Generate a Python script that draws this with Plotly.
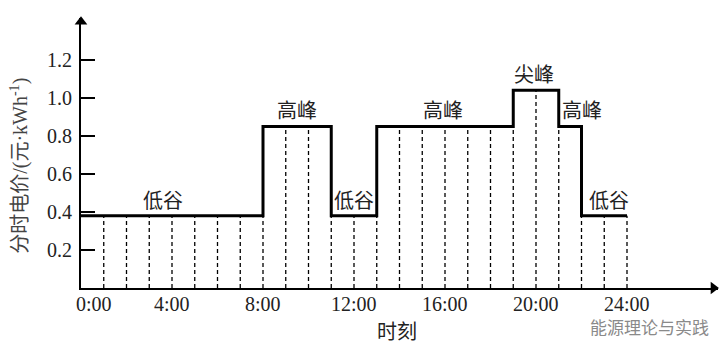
import plotly.graph_objects as go

# Hourly time-of-use price (hour 0..23), 元/kWh
hours = list(range(24))
prices = [0.38]*8 + [0.85]*3 + [0.38]*2 + [0.85]*6 + [1.04]*2 + [0.85] + [0.38]*2

x_tick_vals = [0, 4, 8, 12, 16, 20, 24]
x_tick_text = ["0:00", "4:00", "8:00", "12:00", "16:00", "20:00", "24:00"]
y_tick_vals = [0.2, 0.4, 0.6, 0.8, 1.0, 1.2]
y_tick_text = ["0.2", "0.4", "0.6", "0.8", "1.0", "1.2"]

# Period labels: (text, hour position, price level)
period_text = ["低谷", "高峰", "低谷", "高峰", "尖峰", "高峰", "低谷"]
period_x = [3.6, 9.5, 12.0, 15.9, 19.9, 22.0, 23.2]
period_y = [0.38, 0.85, 0.38, 0.85, 1.04, 0.85, 0.38]

X_MAX, Y_MAX = 28, 1.42

SERIF = "Liberation Serif, Times New Roman, Noto Sans CJK SC, serif"
FS = 20

# step line built from hourly data
step_x = hours + [24]
step_y = prices + [prices[-1]]

# dashed vertical lines at each hour boundary
dx, dy = [], []
for h in range(1, 25):
    left = prices[h - 1]
    right = prices[h] if h < 24 else prices[h - 1]
    dx += [h, h, None]
    dy += [0, min(left, right), None]

fig = go.Figure()
fig.add_trace(go.Scatter(x=dx, y=dy, mode="lines",
                         line=dict(color="black", width=1.3, dash="4px,3px"),
                         hoverinfo="skip", cliponaxis=False))
fig.add_trace(go.Scatter(x=step_x, y=step_y, mode="lines", line_shape="hv",
                         line=dict(color="black", width=3),
                         cliponaxis=False))
# axis arrowheads
fig.add_trace(go.Scatter(x=[X_MAX - 0.2], y=[0], mode="markers", cliponaxis=False,
                         marker=dict(symbol="triangle-right", size=11, color="black"),
                         hoverinfo="skip"))
fig.add_trace(go.Scatter(x=[0], y=[Y_MAX - 0.02], mode="markers", cliponaxis=False,
                         marker=dict(symbol="triangle-up", size=11, color="black"),
                         hoverinfo="skip"))

ann = []
for t, xv in zip(x_tick_text, x_tick_vals):
    ann.append(dict(x=xv, y=0, xref="x", yref="y", text=t, showarrow=False,
                    yanchor="middle", yshift=-16, xshift=13 if xv == 0 else 0,
                    font=dict(family=SERIF, size=FS, color="#222")))
for t, xv, yv in zip(period_text, period_x, period_y):
    ann.append(dict(x=xv, y=yv, xref="x", yref="y", text=t, showarrow=False,
                    yanchor="bottom", yshift=2,
                    font=dict(family=SERIF, size=20, color="#222")))
# axis titles
ann.append(dict(x=0.496, y=0, xref="paper", yref="paper", text="时刻", showarrow=False,
                yanchor="middle", yshift=-44, font=dict(family=SERIF, size=20, color="#222")))
ann.append(dict(x=-0.096, y=0.452, xref="paper", yref="paper", xanchor="center",
                yanchor="middle",
                text="分时电价/(元·kWh<sup>-1</sup>)", textangle=-90, showarrow=False,
                font=dict(family=SERIF, size=20, color="#444")))
# watermark
ann.append(dict(x=1.0, y=0, xref="paper", yref="paper", text="能源理论与实践", showarrow=False,
                xanchor="right", yanchor="middle", yshift=-38, xshift=-7,
                font=dict(family="Noto Sans CJK SC", size=17, color="#8a8a8a")))

fig.update_layout(
    width=728, height=360,
    margin=dict(l=81, r=10, t=18, b=72),
    paper_bgcolor="white", plot_bgcolor="white",
    showlegend=False,
    annotations=ann,
    xaxis=dict(range=[0, X_MAX], showgrid=False, zeroline=False, showline=True,
               linecolor="black", linewidth=2, showticklabels=False, ticks=""),
    yaxis=dict(range=[0, Y_MAX], showgrid=False, zeroline=False, showline=True,
               linecolor="black", linewidth=2, tickvals=y_tick_vals, ticktext=y_tick_text,
               ticks="inside", ticklen=14, tickwidth=2, tickcolor="black",
               ticklabelstandoff=3,
               tickfont=dict(family=SERIF, size=FS, color="#222")),
)

fig.write_html("out.html", config={"displayModeBar": False},
               post_script="document.body.style.margin='0';")
